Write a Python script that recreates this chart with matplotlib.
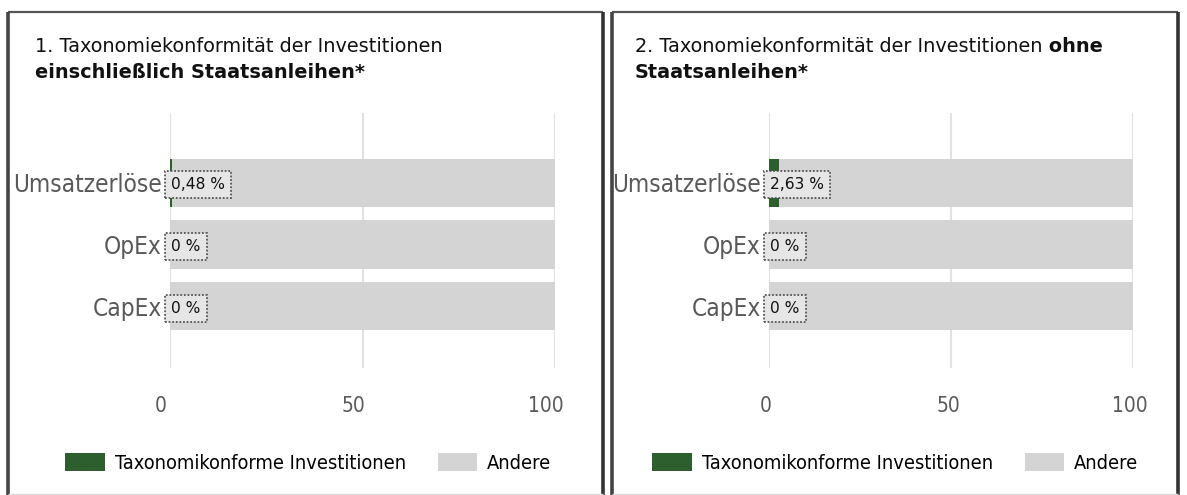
import matplotlib
matplotlib.use("Agg")
import matplotlib.pyplot as plt
import matplotlib.transforms as mtransforms
from matplotlib.patches import Patch
from matplotlib.lines import Line2D

categories = ["Umsatzerlöse", "OpEx", "CapEx"]
aligned_incl = [0.48, 0, 0]
aligned_excl = [2.63, 0, 0]
labels_incl = ["0,48 %", "0 %", "0 %"]
labels_excl = ["2,63 %", "0 %", "0 %"]
xticks = [0, 50, 100]
legend_labels = ["Taxonomikonforme Investitionen", "Andere"]

GREEN = "#2c5f2d"
GREY = "#d4d4d4"
COND = dict(family="DejaVu Sans", stretch="condensed")

W, H = 1187, 495
fig = plt.figure(figsize=(W / 100, H / 100), dpi=100)


def px(x0, top, x1, bottom):
    return [x0 / W, 1 - bottom / H, (x1 - x0) / W, (bottom - top) / H]


def frame(x0, x1):
    kw = dict(transform=fig.transFigure, solid_capstyle="butt")
    fig.add_artist(Line2D([x0 / W, x1 / W], [1 - 12 / H] * 2, color="#555555", lw=1.6, **kw))
    fig.add_artist(Line2D([x0 / W] * 2, [0, 1 - 12 / H], color="#444444", lw=2.6, **kw))
    fig.add_artist(Line2D([x1 / W] * 2, [0, 1 - 12 / H], color="#333333", lw=2.6, **kw))
    fig.add_artist(Line2D([x0 / W, x1 / W], [1 / H] * 2, color="#dddddd", lw=1, **kw))


def panel(rect, aligned, labels, title_x, title_normal, title_bold, bold_inline,
          legend_x, tick_shift):
    ax = fig.add_axes(rect)
    ys = list(range(len(categories)))
    other = [100 - v for v in aligned]
    ax.barh(ys, other, left=aligned, height=0.78, color=GREY, zorder=2)
    ax.barh(ys, aligned, height=0.78, color=GREEN, zorder=3)
    for y, lab in zip(ys, labels):
        ax.annotate(lab, xy=(0, y), xytext=(1, -1.5), textcoords="offset points",
                    ha="left", va="center", fontsize=11.2, color="#111111", zorder=5,
                    bbox=dict(boxstyle="square,pad=0.38", fc="#e6e6e6", ec="#555555",
                              lw=1.3, ls=(0, (1, 1))))
    ax.set_xlim(0, 100)
    ax.set_ylim(3.0, -1.13)
    ax.set_yticks(ys)
    ax.set_yticklabels(categories, fontsize=17.5, color="#595959", **COND)
    ax.set_xticks(xticks)
    ax.set_xticklabels([str(t) for t in xticks], fontsize=15, color="#595959", **COND)
    ax.tick_params(axis="both", length=0)
    ax.tick_params(axis="x", pad=20)
    ax.tick_params(axis="y", pad=6)
    shift = mtransforms.ScaledTranslation(tick_shift / 100, 0, fig.dpi_scale_trans)
    for lab in ax.get_xticklabels():
        lab.set_transform(lab.get_transform() + shift)
    ax.grid(axis="x", color="#e2e2e2", lw=1.5, zorder=0)
    for s in ax.spines.values():
        s.set_visible(False)

    t1 = fig.text(title_x / W, 1 - 47 / H, title_normal, fontsize=13.9, va="center",
                  color="#111111")
    if bold_inline:
        ax.annotate(" " + bold_inline, xy=(1, 0), xycoords=t1, va="bottom", ha="left",
                    fontsize=13.9, fontweight="bold", color="#111111")
    fig.text(title_x / W, 1 - 72 / H, title_bold, fontsize=13.9, va="center",
             fontweight="bold", color="#111111")

    handles = [Patch(fc=GREEN, ec="none"), Patch(fc=GREY, ec="none")]
    prop = dict(size=14.3, **COND)
    fig.legend(handles, legend_labels, loc="center left",
               bbox_to_anchor=(legend_x / W, 1 - 463 / H), ncol=2, frameon=False,
               prop=prop, handlelength=2.0, handleheight=1.05,
               handletextpad=0.5, columnspacing=1.6, borderaxespad=0, borderpad=0)
    return ax


frame(8, 603)
frame(612, 1178)

panel(px(170, 113, 555, 368), aligned_incl, labels_incl, 35,
      "1. Taxonomiekonformität der Investitionen", "einschließlich Staatsanleihen*", None,
      65, -9)
panel(px(769, 113, 1133, 368), aligned_excl, labels_excl, 635,
      "2. Taxonomiekonformität der Investitionen", "Staatsanleihen*", "ohne",
      652, -3)

fig.savefig("out.png", dpi=100)
